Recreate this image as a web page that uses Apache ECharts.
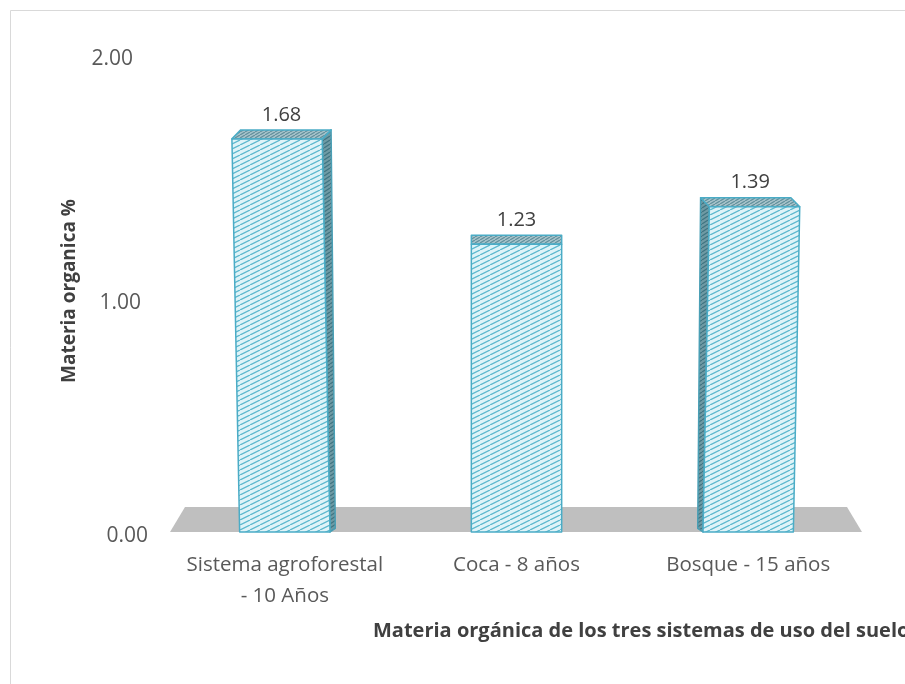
<!DOCTYPE html>
<html><head><meta charset="utf-8">
<script src="https://cdn.jsdelivr.net/npm/echarts@6/dist/echarts.min.js"></script>
<style>html,body{margin:0;padding:0;background:#fff}#c{width:905px;height:684px}</style>
</head><body><div id="c"></div>
<script>
const categories = ['Sistema agroforestal\n- 10 Años', 'Coca - 8 años', 'Bosque - 15 años'];
const values = [1.68, 1.23, 1.39];
const yMin = 0, yMax = 2, yStep = 1;
const xTitle = 'Materia orgánica de los tres sistemas de uso del suelo';
const yTitle = 'Materia organica %';

function makePattern(bg, fg, w, h, lw) {
  const c = document.createElement('canvas');
  c.width = w; c.height = h;
  const ctx = c.getContext('2d');
  ctx.fillStyle = bg; ctx.fillRect(0, 0, w, h);
  ctx.strokeStyle = fg; ctx.lineWidth = lw;
  ctx.beginPath();
  for (let k = -1; k <= 1; k++) { ctx.moveTo(k * w, h); ctx.lineTo((k + 1) * w, 0); }
  ctx.stroke();
  return { image: c, repeat: 'repeat' };
}
const frontPat = makePattern('#dff3f8', '#5cb8ce', 10, 5, 1.3);
const sidePat = makePattern('#6f9aa4', '#3f7482', 6, 4, 1.2);
const topPat = makePattern('#a8c4cb', '#62909c', 5, 3, 1.2);

const FONT = '"Open Sans", "Liberation Sans", sans-serif';
const chart = echarts.init(document.getElementById('c'), null, { renderer: 'canvas' });

function renderBar(params, api) {
  const idx = api.value(0), val = api.value(1);
  const base = api.coord([idx, 0]);
  const top = api.coord([idx, val]);
  const band = api.size([1, 0])[0];
  const bw = band * 0.39;
  const cs = params.coordSys;
  const midX = cs.x + cs.width / 2;
  const cx = base[0];
  const off = cx - midX;
  const y0 = base[1], yT = top[1];
  const lean = off * (y0 - yT) * 8.5e-5;
  const xL = cx - bw / 2, xR = cx + bw / 2;
  const dx = -off * 0.038, dy = -9;
  const children = [];
  const border = { stroke: '#4bacc6', lineWidth: 1.5, lineJoin: 'round' };
  if (Math.abs(dx) > 0.5) {
    const xs = dx > 0 ? xR : xL;
    children.push({ type: 'polygon', shape: { points: [[xs, y0], [xs + lean, yT], [xs + lean + dx, yT + dy], [xs + dx * 0.6, y0 + dy * 0.4]] },
      style: Object.assign({ fill: sidePat }, border, { stroke: '#4a9fb5' }) });
  }
  children.push({ type: 'polygon', shape: { points: [[xL + lean, yT], [xR + lean, yT], [xR + lean + dx, yT + dy], [xL + lean + dx, yT + dy]] },
    style: Object.assign({ fill: topPat }, border) });
  children.push({ type: 'polygon', shape: { points: [[xL, y0], [xR, y0], [xR + lean, yT], [xL + lean, yT]] },
    style: Object.assign({ fill: frontPat }, border) });
  children.push({ type: 'text', style: { text: val.toFixed(2), x: cx + lean + dx / 2, y: yT + dy - 15, align: 'center', verticalAlign: 'middle',
    font: '20px ' + FONT, fill: '#404040' } });
  return { type: 'group', children };
}

function renderFloor(params, api) {
  const cs = params.coordSys;
  const y0 = api.coord([0, 0])[1];
  return { type: 'polygon', shape: { points: [
    [cs.x + 1, y0], [cs.x + cs.width - 2, y0], [cs.x + cs.width - 17, y0 - 25], [cs.x + 16, y0 - 25]] },
    style: { fill: '#bfbfbf' } };
}

// per-tick label nudges imitating the 3D perspective of the original
const tickRich = {
  t0: { padding: [8, 0, 0, 0] },
  t1: { padding: [10, 7, 0, 0] },
  t2: { padding: [0, 15, 9, 0] }
};

chart.setOption({
  animation: false,
  backgroundColor: '#fff',
  grid: { left: 169, right: 41, top: 64, bottom: 152 },
  graphic: [
    { type: 'rect', shape: { x: 10.5, y: 10.5, width: 1000, height: 1000 }, style: { fill: 'none', stroke: '#d9d9d9', lineWidth: 1 }, z: -10 },
    { type: 'text', left: 373, top: 621, style: { text: xTitle, font: 'bold 20px ' + FONT, fill: '#404040' } },
    { type: 'text', x: 70, y: 291, rotation: Math.PI / 2,
      style: { text: yTitle, font: 'bold 19px ' + FONT, fill: '#404040', align: 'center', verticalAlign: 'middle' } }
  ],
  xAxis: {
    type: 'category', data: categories,
    axisLine: { show: false }, axisTick: { show: false },
    axisLabel: { color: '#595959', fontSize: 20.5, fontFamily: FONT, lineHeight: 31, margin: 18, interval: 0 }
  },
  yAxis: {
    type: 'value', min: yMin, max: yMax, interval: yStep,
    axisLine: { show: false }, axisTick: { show: false }, splitLine: { show: false },
    axisLabel: { color: '#595959', fontSize: 21, fontFamily: FONT, margin: 21,
      formatter: v => '{t' + Math.round(v) + '|' + v.toFixed(2) + '}',
      rich: tickRich }
  },
  series: [
    { type: 'custom', name: 'floor', renderItem: renderFloor, data: [[0, 0]], z: 1, silent: true },
    { type: 'custom', name: 'bars', renderItem: renderBar, data: values.map((v, i) => [i, v]), z: 2 }
  ]
});
</script></body></html>
